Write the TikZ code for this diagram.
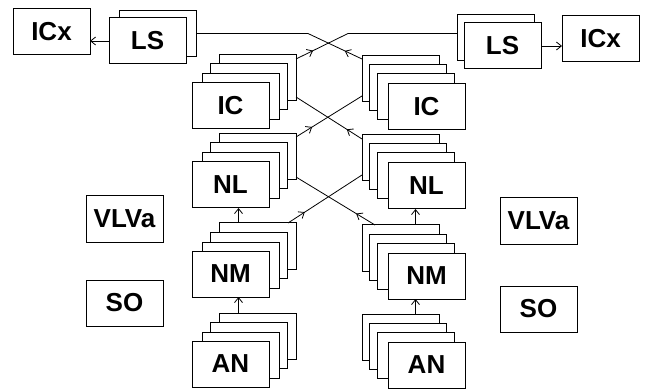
\documentclass[tikz,border=0pt]{standalone}
\usepackage{fontspec}
\setmainfont{Liberation Sans}
\usetikzlibrary{arrows.meta,decorations.markings}
\tikzset{
 box/.style={draw, line width=1pt, fill=white, minimum width=77pt, minimum height=46pt,
   inner sep=0pt, outer sep=0pt, anchor=north west, font=\fontsize{26}{30}\selectfont\bfseries},
 arr/.style={-{Straight Barb[length=5pt,width=8pt]}},
 conn/.style={line width=0.8pt},
 midarrow/.style={postaction={decorate}, decoration={markings,
   mark=at position #1 with {\arrow{Straight Barb[length=5pt,width=8pt]}}}},
}
\newcommand\mystackL[4]{%
 \node[box] (#13) at (#2+27,#3-28) {};
 \node[box] (#12) at (#2+18,#3-19) {};
 \node[box] (#11) at (#2+10,#3-9) {};
 \node[box] (#1) at (#2,#3) {#4};}
\newcommand\mystackR[4]{%
 \node[box] (#13) at (#2-26,#3-28) {};
 \node[box] (#12) at (#2-19,#3-19) {};
 \node[box] (#11) at (#2-11,#3-10) {};
 \node[box] (#1) at (#2,#3) {#4};}
\begin{document}
\begin{tikzpicture}[x=1pt,y=-1pt]
\useasboundingbox (0,0) rectangle (645,390);
% single boxes
\node[box] (lICx) at (13,9) {ICx};
\node[box] (rICx) at (562,16) {ICx};
\node[box] (lVLVa) at (86,196) {VLVa};
\node[box] (lSO) at (86,280) {SO};
\node[box] (rVLVa) at (500,198) {VLVa};
\node[box] (rSO) at (500,286) {SO};
% LS
\node[box] (lLS1) at (119,11) {};
\node[box] (lLS) at (109,18) {LS};
\node[box] (rLS1) at (457,15) {};
\node[box] (rLS) at (464,23) {LS};
% stacks
\mystackL{lIC}{192}{83}{IC}
\mystackL{lNL}{192}{162}{NL}
\mystackL{lNM}{192}{251}{NM}
\mystackL{lAN}{192}{341}{AN}
\mystackR{rIC}{388}{84}{IC}
\mystackR{rNL}{388}{163}{NL}
\mystackR{rNM}{388}{253}{NM}
\mystackR{rAN}{388}{342}{AN}
% LS to ICx
\draw[conn,arr] (lLS.west) -- (lLS.west -| lICx.east);
\draw[conn,arr] (rLS.east) -- (rLS.east -| rICx.west);
% crossings
\coordinate (kL) at (308,33.5);
\coordinate (kR) at (348,33.5);
\draw[conn,midarrow=19pt] ([yshift=-3pt]rIC3.north west) -- (kL) -- (lLS1.east |- kL);
\draw[conn,midarrow=19pt] ([yshift=-4pt]lIC3.north east) -- (kR) -- (rLS1.west |- kR);
\draw[conn,midarrow=18pt] ([yshift=-4pt]rNL3.north west) -- ([yshift=4pt]lIC3.south east);
\draw[conn,midarrow=19pt] ([yshift=-3pt]lNL3.north east) -- ([yshift=6pt]rIC3.south west);
\draw[conn,midarrow=22pt] ([xshift=13pt]rNM3.north west) -- ([yshift=3pt]lNL3.south east);
\draw[conn,midarrow=20pt] ([xshift=-8pt]lNM3.north east) -- ([yshift=6pt]rNL3.south west);
% vertical arrows
\coordinate (lv1) at ([xshift=8pt]lNL.south);
\coordinate (lv2) at ([xshift=8pt]lNM.south);
\coordinate (rv1) at ([xshift=-11pt]rNL.south);
\coordinate (rv2) at ([xshift=-11pt]rNM.south);
\draw[conn,arr] (lv1 |- lNM3.north) -- (lv1);
\draw[conn,arr] (lv2 |- lAN3.north) -- (lv2);
\draw[conn,arr] (rv1 |- rNM3.north) -- (rv1);
\draw[conn,arr] (rv2 |- rAN3.north) -- (rv2);
\end{tikzpicture}
\end{document}
